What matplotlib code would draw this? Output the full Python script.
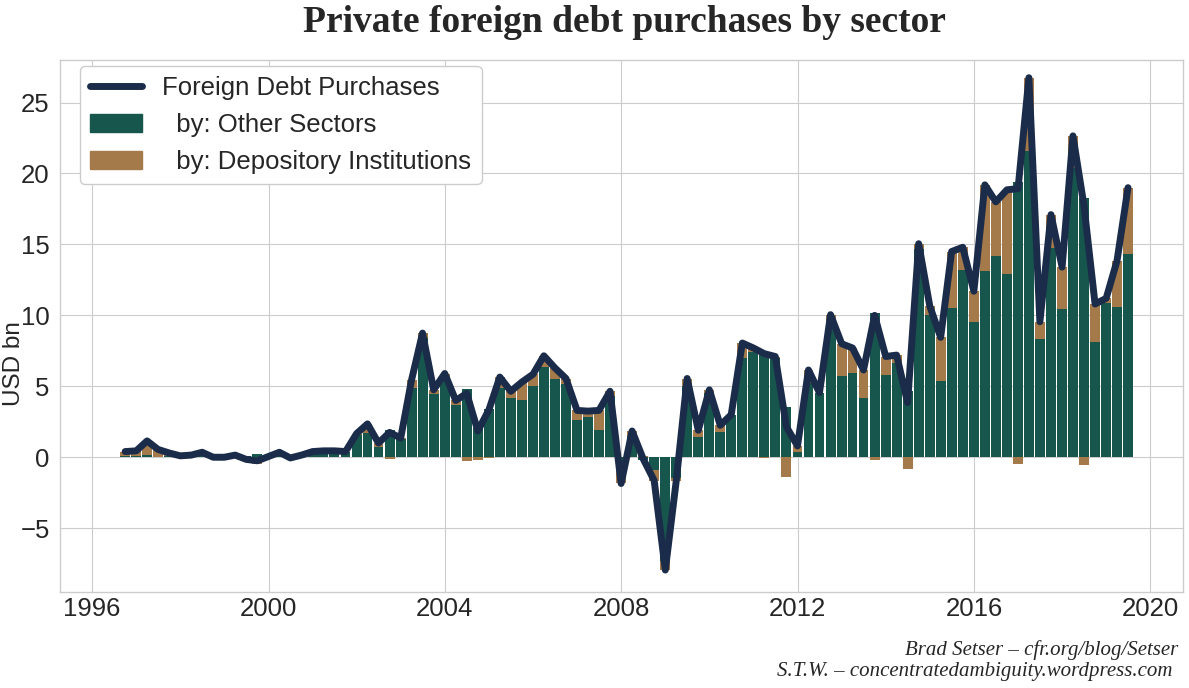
import numpy as np
import pandas as pd
import matplotlib
matplotlib.use('Agg')
import matplotlib.pyplot as plt
import matplotlib.dates as mdates
from matplotlib.lines import Line2D
from matplotlib.patches import Patch

# quarterly data, 1996Q3 - 2019Q2, USD bn
quarters = pd.period_range('1996Q3', '2019Q2', freq='Q')

other_sectors = [
    0.1, 0.1, 0.15, 0.05, 0.1, 0.1, 0.1, 0.25, 0.05, 0.0,
    0.1, 0.1, 0.2, 0.1, 0.3, 0.0, 0.15, 0.35, 0.4, 0.4,
    0.35, 1.57, 1.7, 0.7, 1.9, 1.3, 4.85, 8.4, 4.45, 5.65,
    3.7, 4.8, 2.05, 3.4, 4.85, 4.15, 4.05, 5.0, 6.35, 5.5,
    5.15, 2.65, 2.85, 1.9, 4.3, -0.5, 1.5, -0.2, -0.9, -7.3,
    -1.45, 5.0, 1.4, 4.55, 1.75, 2.95, 7.0, 7.4, 7.35, 7.0,
    3.55, 0.4, 5.25, 4.55, 9.15, 5.75, 5.95, 4.15, 10.2, 5.8,
    6.65, 4.7, 14.7, 10.05, 5.4, 10.55, 13.2, 9.5, 13.1, 14.15,
    12.95, 19.4, 21.6, 8.3, 14.75, 10.45, 20.4, 18.3, 8.15, 10.9,
    10.6, 14.35]

depository = [
    0.3, 0.35, 1.0, 0.5, 0.2, 0.0, 0.05, 0.1, -0.05, 0.0,
    0.05, -0.25, -0.45, -0.05, 0.05, -0.05, 0.0, 0.05, 0.05, 0.05,
    0.05, 0.1, 0.65, 0.3, -0.15, 0.05, 0.6, 0.35, 0.3, 0.25,
    0.3, -0.3, -0.2, -0.05, 0.8, 0.5, 1.25, 0.85, 0.8, 0.8,
    0.4, 0.65, 0.4, 1.4, 0.35, -1.35, 0.35, 0.1, -0.75, -0.65,
    -0.25, 0.55, 0.5, 0.2, 0.5, 0.05, 1.05, 0.3, -0.05, 0.1,
    -1.4, 0.4, 0.9, 0.0, 0.9, 2.25, 1.75, 2.0, -0.2, 1.3,
    0.55, -0.85, 0.35, 0.6, 3.05, 3.95, 1.6, 2.2, 6.1, 3.85,
    5.9, -0.47, 5.15, 1.25, 2.35, 2.95, 2.25, -0.55, 2.65, 0.3,
    3.25, 4.65]

green = '#17564c'
brown = '#a57a4b'
navy = '#1b2c4a'

dates = quarters.to_timestamp(how='end').normalize()
G = np.array(other_sectors)
D = np.array(depository)
total = G + D
# positives stack on positives, negatives on negatives
d_bottom = np.where(D >= 0, np.maximum(G, 0), np.minimum(G, 0))

plt.style.use('seaborn-v0_8-whitegrid')
plt.rcParams['font.family'] = ['Liberation Sans', 'DejaVu Sans']

fig = plt.figure(figsize=(11.89, 6.88), dpi=100)
ax = fig.add_axes([0.0505, 0.1395, 0.9445, 0.7733])

ax.bar(dates, G, width=82, color=green, zorder=2)
ax.bar(dates, D, width=82, bottom=d_bottom, color=brown, zorder=2)
ax.plot(dates, total, color=navy, lw=5, zorder=3,
        solid_joinstyle='round', solid_capstyle='round')

ax.set_xlim(mdates.date2num(pd.Timestamp('1995-04-10')),
            mdates.date2num(pd.Timestamp('2020-09-28')))
ax.set_ylim(-9.5, 28.0)
ax.set_yticks([-5, 0, 5, 10, 15, 20, 25])
ax.xaxis.set_major_locator(mdates.YearLocator(4))
ax.xaxis.set_major_formatter(mdates.DateFormatter('%Y'))
ax.tick_params(labelsize=18.5, colors='#262626')
ax.tick_params(axis='y', pad=7.5)
ax.set_ylabel('USD bn', fontsize=17.5, color='#262626')
ax.yaxis.set_label_coords(-0.031, 0.43)

handles = [Line2D([0], [0], color=navy, lw=5, solid_capstyle='round'),
           Patch(color=green), Patch(color=brown)]
labels = ['Foreign Debt Purchases', '  by: Other Sectors',
          '  by: Depository Institutions']
ax.legend(handles, labels, loc='upper left', bbox_to_anchor=(0.0178, 0.9887),
          borderaxespad=0, fontsize=18.5, frameon=True,
          facecolor='white', edgecolor='#cccccc', framealpha=1)

fig.text(0.525, 0.968, 'Private foreign debt purchases by sector',
         ha='center', va='center', fontsize=27, fontweight='bold',
         family='Liberation Serif', color='#262626')
fig.text(0.9908, 0.055, 'Brad Setser – cfr.org/blog/Setser', ha='right',
         va='center', fontsize=15, style='italic', family='Liberation Serif')
fig.text(0.9908, 0.0247, 'S.T.W. – concentratedambiguity.wordpress.com ',
         ha='right', va='center', fontsize=15, style='italic',
         family='Liberation Serif')

fig.savefig('out.png', dpi=100)
